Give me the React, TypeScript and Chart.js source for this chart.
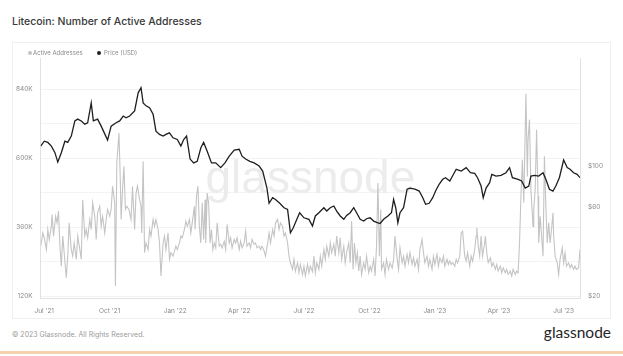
import React, { useEffect, useRef } from 'react';
import { Chart, registerables } from 'chart.js';

Chart.register(...registerables);

// x values are days since 2021-07-01
const quarterDays = [0, 92, 184, 274, 365, 457, 549, 639, 730];
const quarterLabels = ["Jul '21", "Oct '21", "Jan '22", "Apr '22", "Jul '22", "Oct '22", "Jan '23", "Apr '23", "Jul '23"];
const leftTicksK = [120, 240, 360, 480, 600, 720, 840];
const rightTicksUsd = [20, 60, 100];

// Active addresses, thousands: [day, value]
const activeAddressesK: [number, number][] = [
  [-5,294],[-2,340],[0,323],[3,282],[5,352],[7,317],[10,363],[11,404],[13,329],[16,398],[18,375],[20,416],[22,294],[24,224],[26,329],[28,271],[31,184],[33,259],[35,375],[38,282],[40,259],[42,305],[45,248],[47,329],[50,282],[52,248],[54,456],[57,329],[59,352],[61,323],[64,387],[66,352],[68,445],[71,398],[73,317],[75,410],[78,433],[80,363],[82,398],[85,340],[87,387],[89,422],[92,398],[94,422],[96,503],[99,445],[100,155],[102,584],[105,688],[107,514],[108,387],[110,491],[112,572],[114,422],[116,433],[119,422],[122,387],[124,503],[127,352],[129,479],[131,503],[134,456],[136,433],[137,340],[139,590],[141,271],[143,305],[146,282],[148,352],[150,329],[153,387],[155,363],[157,387],[160,352],[162,305],[164,190],[167,305],[169,329],[171,282],[174,340],[176,248],[178,271],[181,259],[185,294],[187,282],[190,305],[192,329],[194,323],[197,352],[199,381],[201,363],[204,387],[206,340],[208,375],[211,433],[212,352],[214,468],[216,503],[218,363],[220,305],[222,445],[224,317],[226,456],[227,305],[229,479],[231,445],[233,305],[235,352],[237,282],[239,305],[241,288],[243,375],[246,294],[248,300],[250,288],[253,311],[255,282],[257,369],[260,305],[262,323],[264,288],[267,317],[269,305],[271,323],[274,282],[276,311],[278,288],[281,305],[283,346],[285,294],[288,305],[290,288],[292,317],[295,300],[297,305],[299,288],[302,294],[304,282],[306,294],[309,277],[311,259],[314,305],[316,340],[318,305],[321,352],[323,329],[325,375],[328,387],[330,352],[332,375],[335,363],[337,329],[339,340],[342,305],[344,259],[346,236],[349,213],[351,248],[353,207],[356,236],[358,201],[360,230],[363,195],[365,224],[367,190],[370,230],[372,201],[374,224],[377,205],[379,259],[381,201],[383,236],[386,213],[388,259],[390,224],[393,282],[395,248],[397,294],[400,259],[402,305],[404,271],[407,300],[409,259],[411,329],[414,271],[416,323],[418,248],[421,294],[423,236],[425,271],[428,305],[430,236],[432,381],[434,213],[436,305],[438,236],[440,271],[442,207],[444,259],[446,195],[449,236],[451,213],[453,259],[456,201],[458,224],[460,207],[463,248],[465,190],[467,294],[469,514],[471,259],[473,422],[474,213],[477,236],[479,195],[481,248],[484,213],[486,236],[489,218],[491,248],[493,329],[496,248],[498,213],[500,288],[503,236],[505,259],[507,224],[510,265],[512,236],[514,271],[517,230],[519,253],[521,224],[524,248],[526,213],[528,282],[531,317],[533,271],[535,236],[538,259],[540,224],[542,248],[545,213],[547,259],[549,230],[552,265],[554,224],[556,253],[559,236],[561,259],[563,224],[566,248],[568,230],[570,242],[572,230],[574,236],[577,224],[579,248],[581,236],[584,259],[586,340],[588,346],[591,259],[593,242],[595,271],[598,224],[600,259],[602,242],[605,282],[607,329],[608,358],[610,294],[612,259],[614,329],[616,259],[619,305],[620,329],[622,271],[624,236],[627,253],[629,224],[631,236],[634,213],[636,230],[638,207],[641,224],[643,201],[645,218],[648,201],[650,213],[652,195],[655,207],[657,190],[659,213],[662,195],[664,207],[666,201],[668,305],[670,468],[672,595],[674,445],[677,825],[679,537],[680,665],[682,735],[684,491],[687,363],[688,422],[690,491],[692,700],[694,468],[695,305],[697,398],[699,329],[701,259],[703,607],[705,433],[707,305],[709,375],[711,305],[713,352],[715,410],[716,329],[718,259],[721,236],[723,195],[725,248],[728,288],[730,236],[732,271],[734,224],[737,236],[739,218],[741,230],[744,213],[746,224],[748,213],[751,218],[753,282]
];

// Price, USD: [day, value]
const priceUsd: [number, number][] = [
  [-5,128],[0,136],[5,134],[10,128],[15,118],[19,105],[24,118],[29,136],[33,134],[38,145],[43,175],[47,179],[52,175],[57,168],[61,171],[66,219],[69,175],[75,179],[80,164],[85,149],[89,138],[94,164],[101,171],[106,175],[111,186],[115,182],[120,186],[127,198],[132,248],[136,264],[139,219],[143,211],[148,206],[153,190],[157,154],[162,148],[167,145],[171,148],[176,151],[181,142],[187,139],[192,128],[196,139],[200,145],[205,109],[210,104],[215,106],[220,125],[224,134],[229,120],[235,104],[241,104],[248,98],[254,104],[260,113],[267,122],[274,123],[278,113],[283,109],[289,106],[295,104],[302,100],[307,94],[313,76],[316,63],[321,67.5],[325,66],[331,63],[337,59.6],[342,58.4],[346,43.7],[350,46.5],[355,51.6],[359,56],[365,52.6],[372,51.6],[377,47.5],[381,53.8],[386,56],[393,59.6],[397,57.2],[402,59.6],[407,60.9],[411,57.2],[416,53.8],[421,51.6],[425,54.2],[430,56],[435,59.6],[439,56],[444,51.6],[449,50.5],[453,52],[458,52.6],[463,50.5],[468,49.5],[472,49],[477,51.6],[483,53.8],[488,56],[491,66],[494,59.6],[497,49.5],[500,56],[505,59.6],[510,75],[514,76],[521,75],[527,73.3],[532,67.5],[536,62.2],[541,63],[546,67.5],[550,73.3],[555,79.7],[560,84.8],[564,86.5],[570,83],[579,96],[586,94],[593,98],[599,92],[605,91.3],[609,86.5],[614,78],[617,67.5],[621,76],[626,81.3],[629,90.2],[635,88.3],[642,89],[649,92],[654,98],[658,86.5],[666,84.8],[671,83],[676,76],[681,78],[684,88.3],[689,89],[695,88.3],[701,92],[705,84.8],[710,75],[715,73.3],[719,78],[724,86.5],[730,107.7],[735,98],[739,96],[744,92],[749,90.2],[753,86.5]
];

const FONT = 'Inter, "Liberation Sans", Arial, sans-serif';
const AA_COLOR = '#c4c4c4';
const PRICE_COLOR = '#1e1e1e';

const watermarkPlugin = {
  id: 'watermark',
  beforeDatasetsDraw(chart: any) {
    const { ctx, chartArea: a } = chart;
    ctx.save();
    ctx.font = '46px "Liberation Sans", Arial, sans-serif';
    ctx.fillStyle = '#ececec';
    ctx.textAlign = 'center';
    ctx.textBaseline = 'alphabetic';
    ctx.fillText('glassnode', (a.left + a.right) / 2, a.top + 135);
    ctx.restore();
  },
};

export default function App() {
  const canvasRef = useRef<HTMLCanvasElement | null>(null);

  useEffect(() => {
    if (!canvasRef.current) return;
    const tickFont = { family: FONT, size: 6.5 };
    const chart = new Chart(canvasRef.current, {
      type: 'line',
      data: {
        datasets: [
          {
            label: 'Active Addresses',
            data: activeAddressesK.map(([x, y]) => ({ x, y })),
            borderColor: AA_COLOR,
            backgroundColor: AA_COLOR,
            borderWidth: 1.1,
            pointRadius: 0,
            tension: 0,
            yAxisID: 'yAA',
            order: 1,
          },
          {
            label: 'Price (USD)',
            data: priceUsd.map(([x, y]) => ({ x, y })),
            borderColor: PRICE_COLOR,
            backgroundColor: PRICE_COLOR,
            borderWidth: 1.3,
            pointRadius: 0,
            tension: 0,
            yAxisID: 'yPrice',
            order: 0,
          },
        ],
      },
      options: {
        animation: false,
        responsive: false,
        maintainAspectRatio: false,
        layout: { padding: { top: 16, left: 0, right: 0, bottom: 0 } },
        plugins: { legend: { display: false }, tooltip: { enabled: false } },
        scales: {
          x: {
            type: 'linear',
            min: -5,
            max: 753,
            grid: { display: false, drawTicks: false },
            border: { display: true, color: '#e2e2e2' },
            ticks: {
              padding: 9,
              font: tickFont,
              color: '#8a8a8a',
              autoSkip: false,
              maxRotation: 0,
              callback: (_v: any, i: number) => quarterLabels[i] ?? '',
            },
            afterBuildTicks: (s: any) => {
              s.ticks = quarterDays.map((v) => ({ value: v }));
            },
            afterFit: (s: any) => {
              s.height = 20.4;
            },
          },
          yAA: {
            type: 'linear',
            position: 'left',
            min: 111,
            max: 950,
            grid: { color: '#f3f3f3', drawTicks: false },
            border: { display: true, color: '#e2e2e2' },
            ticks: {
              padding: 8,
              font: tickFont,
              color: '#8a8a8a',
              autoSkip: false,
              callback: (v: any) => ((Number(v) - 120) % 240 === 0 ? `${v}K` : ''),
            },
            afterBuildTicks: (s: any) => {
              s.ticks = leftTicksK.map((v) => ({ value: v }));
            },
            afterFit: (s: any) => {
              s.width = 28.7;
            },
          },
          yPrice: {
            type: 'logarithmic',
            position: 'right',
            min: 19.3,
            max: 382,
            grid: { display: false, drawTicks: false },
            border: { display: true, color: '#e2e2e2' },
            ticks: {
              padding: 8,
              font: tickFont,
              color: '#8a8a8a',
              autoSkip: false,
              callback: (v: any) => `$${v}`,
            },
            afterBuildTicks: (s: any) => {
              s.ticks = rightTicksUsd.map((v) => ({ value: v }));
            },
            afterFit: (s: any) => {
              s.width = 31;
            },
          },
        },
      } as any,
      plugins: [watermarkPlugin],
    });
    return () => chart.destroy();
  }, []);

  const abs = (s: React.CSSProperties): React.CSSProperties => ({ position: 'absolute', ...s });

  return (
    <div style={abs({ left: 0, top: 0, width: 623, height: 356, background: '#fff', overflow: 'hidden', fontFamily: FONT })}>
      <div style={abs({ left: 12, top: 16, fontSize: 10.5, lineHeight: '12px', fontWeight: 500, color: '#383838', whiteSpace: 'nowrap' })}>
        Litecoin: Number of Active Addresses
      </div>
      <div style={abs({ left: 12, top: 42, width: 597, height: 275, border: '1px solid #efefef' })} />
      <canvas ref={canvasRef} width={599} height={277} style={abs({ left: 12, top: 42, width: 599, height: 277 })} />
      <div style={abs({ left: 27.5, top: 50.5, width: 4, height: 4, borderRadius: '50%', background: AA_COLOR })} />
      <div style={abs({ left: 33, top: 49, fontSize: 6, lineHeight: '7px', color: '#8a8a8a', whiteSpace: 'nowrap' })}>Active Addresses</div>
      <div style={abs({ left: 97, top: 50.5, width: 4, height: 4, borderRadius: '50%', background: '#222' })} />
      <div style={abs({ left: 104, top: 49, fontSize: 6, lineHeight: '7px', color: '#8a8a8a', whiteSpace: 'nowrap' })}>Price (USD)</div>
      <div style={abs({ left: 12, top: 331, fontSize: 7, lineHeight: '8px', color: '#9a9a9a', whiteSpace: 'nowrap' })}>
        © 2023 Glassnode. All Rights Reserved.
      </div>
      <div style={abs({ right: 12, top: 324, fontSize: 15.5, lineHeight: '16px', color: '#262626', whiteSpace: 'nowrap', fontWeight: 400, fontFamily: 'Lato, "Open Sans", sans-serif' })}>
        glassnode
      </div>
      <div style={abs({ left: 0, top: 351, width: 623, height: 3, background: '#f6d2ac' })} />
    </div>
  );
}
